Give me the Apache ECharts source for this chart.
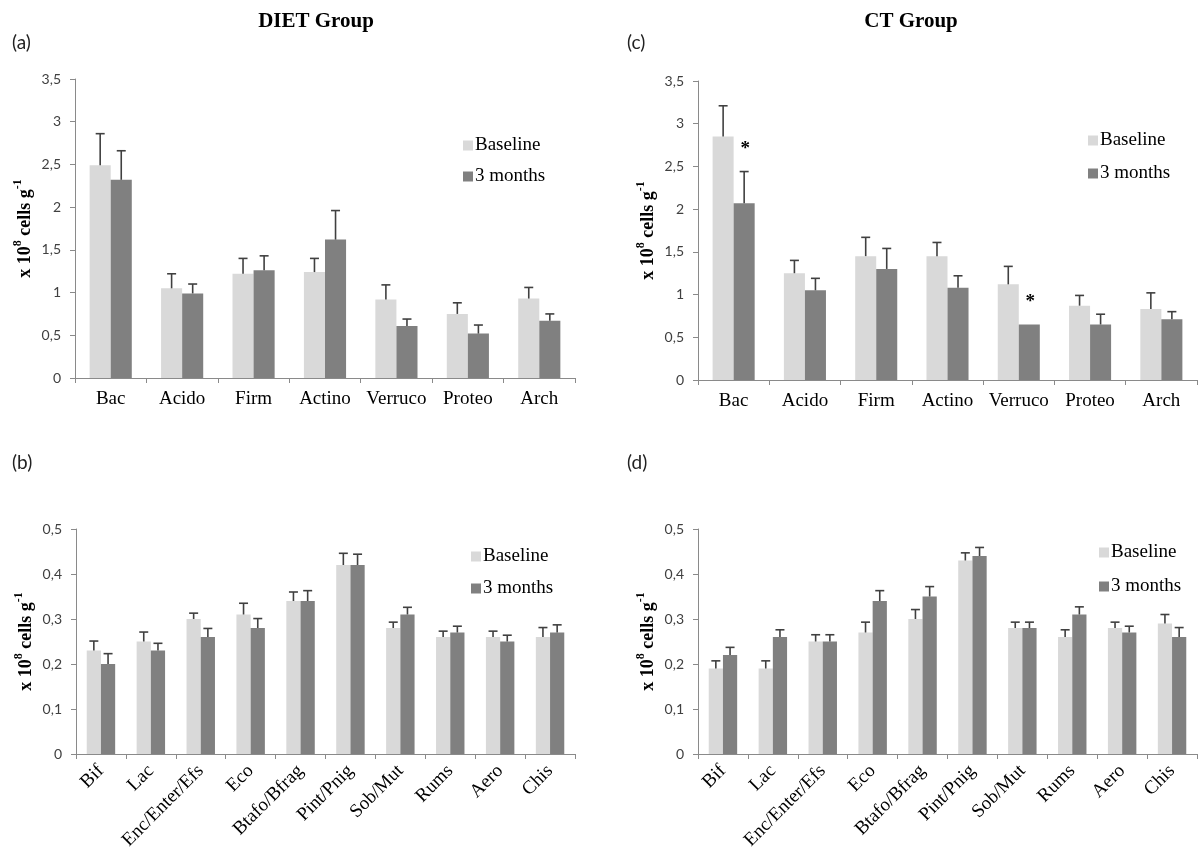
<!DOCTYPE html>
<html>
<head>
<meta charset="utf-8">
<script src="https://cdn.jsdelivr.net/npm/echarts@6/dist/echarts.min.js"></script>
<style>
html,body{margin:0;padding:0;background:#fff;}
#c{width:1202px;height:864px;}
</style>
</head>
<body>
<div id="c"></div>
<script>
// ---------- data ----------
var phylaCats = ['Bac', 'Acido', 'Firm', 'Actino', 'Verruco', 'Proteo', 'Arch'];
var groupCats = ['Bif', 'Lac', 'Enc/Enter/Efs', 'Eco', 'Btafo/Bfrag', 'Pint/Pnig', 'Sob/Mut', 'Rums', 'Aero', 'Chis'];
var seriesNames = ['Baseline', '3 months'];
var ticksPhyla = [0, 0.5, 1, 1.5, 2, 2.5, 3, 3.5];
var ticksGroups = [0, 0.1, 0.2, 0.3, 0.4, 0.5];

// (a) DIET group, phyla
var dietPhylaBase = [2.49, 1.05, 1.22, 1.24, 0.92, 0.75, 0.93];
var dietPhylaBaseErr = [0.37, 0.17, 0.18, 0.16, 0.17, 0.13, 0.13];
var dietPhyla3m = [2.32, 0.99, 1.26, 1.62, 0.61, 0.52, 0.67];
var dietPhyla3mErr = [0.34, 0.11, 0.17, 0.34, 0.08, 0.10, 0.08];

// (c) CT group, phyla
var ctPhylaBase = [2.85, 1.25, 1.45, 1.45, 1.12, 0.87, 0.83];
var ctPhylaBaseErr = [0.36, 0.15, 0.22, 0.16, 0.21, 0.12, 0.19];
var ctPhyla3m = [2.07, 1.05, 1.30, 1.08, 0.65, 0.65, 0.71];
var ctPhyla3mErr = [0.37, 0.14, 0.24, 0.14, 0, 0.12, 0.09];
var ctPhyla3mSig = [1, 0, 0, 0, 1, 0, 0];

// (b) DIET group, bacterial groups
var dietGrpBase = [0.23, 0.25, 0.30, 0.31, 0.34, 0.42, 0.28, 0.26, 0.26, 0.26];
var dietGrpBaseErr = [0.021, 0.021, 0.013, 0.025, 0.020, 0.026, 0.013, 0.013, 0.013, 0.021];
var dietGrp3m = [0.20, 0.23, 0.26, 0.28, 0.34, 0.42, 0.31, 0.27, 0.25, 0.27];
var dietGrp3mErr = [0.023, 0.016, 0.019, 0.021, 0.023, 0.024, 0.016, 0.014, 0.014, 0.017];

// (d) CT group, bacterial groups
var ctGrpBase = [0.19, 0.19, 0.25, 0.27, 0.30, 0.43, 0.28, 0.26, 0.28, 0.29];
var ctGrpBaseErr = [0.017, 0.017, 0.015, 0.023, 0.021, 0.017, 0.013, 0.016, 0.013, 0.020];
var ctGrp3m = [0.22, 0.26, 0.25, 0.34, 0.35, 0.44, 0.28, 0.31, 0.27, 0.26];
var ctGrp3mErr = [0.017, 0.016, 0.015, 0.023, 0.022, 0.019, 0.013, 0.017, 0.014, 0.021];

// ---------- styling ----------
var SERIF = '"Liberation Serif", "Times New Roman", serif';
var SANS = 'Lato, "Open Sans", sans-serif';
var COL_BASE = '#d9d9d9';
var COL_3M = '#808080';
var AXIS_COL = '#8a8a8a';
var ERR_COL = '#404040';

var panels = [
  {grid: {left: 75, top: 79, width: 500, height: 299}, cats: phylaCats, ticks: ticksPhyla, step: 0.5,
   base: dietPhylaBase, baseErr: dietPhylaBaseErr, m3: dietPhyla3m, m3Err: dietPhyla3mErr, sig: null,
   gap: 0.41, rotate: 0, legend: {left: 458, top: 131}, legendGap: 12},
  {grid: {left: 698, top: 81, width: 499, height: 299}, cats: phylaCats, ticks: ticksPhyla, step: 0.5,
   base: ctPhylaBase, baseErr: ctPhylaBaseErr, m3: ctPhyla3m, m3Err: ctPhyla3mErr, sig: ctPhyla3mSig,
   gap: 0.41, rotate: 0, legend: {left: 1083, top: 126}, legendGap: 14},
  {grid: {left: 76, top: 529, width: 499, height: 225}, cats: groupCats, ticks: ticksGroups, step: 0.1,
   base: dietGrpBase, baseErr: dietGrpBaseErr, m3: dietGrp3m, m3Err: dietGrp3mErr, sig: null,
   gap: 0.43, rotate: 45, legend: {left: 466, top: 542}, legendGap: 13},
  {grid: {left: 698, top: 529, width: 499, height: 225}, cats: groupCats, ticks: ticksGroups, step: 0.1,
   base: ctGrpBase, baseErr: ctGrpBaseErr, m3: ctGrp3m, m3Err: ctGrp3mErr, sig: null,
   gap: 0.43, rotate: 45, legend: {left: 1094, top: 538}, legendGap: 15}
];

function errRender(gap, side) {
  return function (params, api) {
    var ci = api.value(0), v = api.value(1), e = api.value(2);
    if (!(e > 0)) return null;
    var band = api.size([1, 0])[0];
    var bw = band * (1 - gap) / 2;
    var x = api.coord([ci, v])[0] + side * bw / 2;
    var y0 = api.coord([ci, v])[1];
    var y1 = api.coord([ci, v + e])[1];
    return {
      type: 'group',
      children: [
        {type: 'line', shape: {x1: x, y1: y0, x2: x, y2: y1}, style: {stroke: ERR_COL, lineWidth: 1.6}},
        {type: 'line', shape: {x1: x - 4.5, y1: y1, x2: x + 4.5, y2: y1}, style: {stroke: ERR_COL, lineWidth: 1.6}}
      ]
    };
  };
}

function sigRender(gap, side) {
  return function (params, api) {
    var ci = api.value(0), top = api.value(1), s = api.value(2);
    if (!s) return null;
    var band = api.size([1, 0])[0];
    var bw = band * (1 - gap) / 2;
    var p = api.coord([ci, top]);
    return {
      type: 'text',
      style: {text: '*', x: p[0] + side * bw / 2 + 1, y: p[1] - 22, align: 'center', verticalAlign: 'middle',
              font: 'bold 19px ' + SERIF, fill: '#000'}
    };
  };
}

var grids = [], xAxes = [], yAxes = [], series = [], legends = [];
panels.forEach(function (p, k) {
  grids.push(Object.assign({containLabel: false}, p.grid));
  xAxes.push({
    type: 'category', gridIndex: k, data: p.cats, boundaryGap: true,
    axisLine: {lineStyle: {color: AXIS_COL, width: 1}},
    axisTick: {show: true, interval: 0, length: 5, lineStyle: {color: AXIS_COL}},
    axisLabel: {interval: 0, rotate: p.rotate, margin: p.rotate ? 14 : 12, color: '#000',
                fontFamily: SERIF, fontSize: 19},
    splitLine: {show: false}
  });
  yAxes.push({
    type: 'value', gridIndex: k, min: p.ticks[0], max: p.ticks[p.ticks.length - 1], interval: p.step,
    axisLine: {show: true, lineStyle: {color: AXIS_COL, width: 1}},
    axisTick: {show: true, length: 5, lineStyle: {color: AXIS_COL}},
    axisLabel: {color: '#404040', fontFamily: SANS, fontSize: 14, margin: 14,
                formatter: function (v) { return String(+v.toFixed(2)).replace('.', ','); }},
    splitLine: {show: false},
    name: '{b|x 10}{s|8}{b| cells g}{s|-1}',
    nameLocation: 'middle', nameRotate: 90, nameGap: 41,
    nameTextStyle: {
      rich: {
        b: {fontFamily: SERIF, fontSize: 18, fontWeight: 'bold', color: '#000', lineHeight: 22, verticalAlign: 'bottom'},
        s: {fontFamily: SERIF, fontSize: 12, fontWeight: 'bold', color: '#000', lineHeight: 22, verticalAlign: 'top'}
      }
    }
  });
  var pct = Math.round(p.gap * 100) + '%';
  series.push({
    name: seriesNames[0], type: 'bar', xAxisIndex: k, yAxisIndex: k, data: p.base,
    barGap: '0%', barCategoryGap: pct, itemStyle: {color: COL_BASE}, z: 2
  });
  series.push({
    name: seriesNames[1], type: 'bar', xAxisIndex: k, yAxisIndex: k, data: p.m3,
    barGap: '0%', barCategoryGap: pct, itemStyle: {color: COL_3M}, z: 2
  });
  series.push({
    type: 'custom', xAxisIndex: k, yAxisIndex: k, z: 3, silent: true,
    renderItem: errRender(p.gap, -1), encode: {x: 0, y: 1},
    data: p.cats.map(function (c, i) { return [i, p.base[i], p.baseErr[i]]; })
  });
  series.push({
    type: 'custom', xAxisIndex: k, yAxisIndex: k, z: 3, silent: true,
    renderItem: errRender(p.gap, 1), encode: {x: 0, y: 1},
    data: p.cats.map(function (c, i) { return [i, p.m3[i], p.m3Err[i]]; })
  });
  if (p.sig) {
    series.push({
      type: 'custom', xAxisIndex: k, yAxisIndex: k, z: 4, silent: true,
      renderItem: sigRender(p.gap, 1), encode: {x: 0, y: 1},
      data: p.cats.map(function (c, i) { return [i, p.m3[i] + p.m3Err[i], p.sig[i]]; })
    });
  }
  legends.push({
    data: seriesNames, orient: 'vertical', left: p.legend.left, top: p.legend.top,
    icon: 'rect', itemWidth: 10, itemHeight: 10, itemGap: p.legendGap, selectedMode: false,
    textStyle: {fontFamily: SERIF, fontSize: 19, color: '#000', lineHeight: 18, padding: [0, 0, 0, -3]}
  });
});

var graphics = [
  {type: 'text', x: 316, y: 22, style: {text: 'DIET Group', font: 'bold 21px ' + SERIF, fill: '#000', align: 'center', verticalAlign: 'middle'}},
  {type: 'text', x: 911, y: 22, style: {text: 'CT Group', font: 'bold 21px ' + SERIF, fill: '#000', align: 'center', verticalAlign: 'middle'}},
  {type: 'text', x: 12, y: 43, style: {text: '(a)', font: '19px ' + SANS, fill: '#222', verticalAlign: 'middle'}},
  {type: 'text', x: 627, y: 43, style: {text: '(c)', font: '19px ' + SANS, fill: '#222', verticalAlign: 'middle'}},
  {type: 'text', x: 12, y: 463, style: {text: '(b)', font: '19px ' + SANS, fill: '#222', verticalAlign: 'middle'}},
  {type: 'text', x: 627, y: 463, style: {text: '(d)', font: '19px ' + SANS, fill: '#222', verticalAlign: 'middle'}}
];

var chart = echarts.init(document.getElementById('c'), null, {renderer: 'canvas'});
chart.setOption({
  animation: false,
  backgroundColor: '#fff',
  grid: grids,
  xAxis: xAxes,
  yAxis: yAxes,
  legend: legends,
  series: series,
  graphic: graphics
});
</script>
</body>
</html>
